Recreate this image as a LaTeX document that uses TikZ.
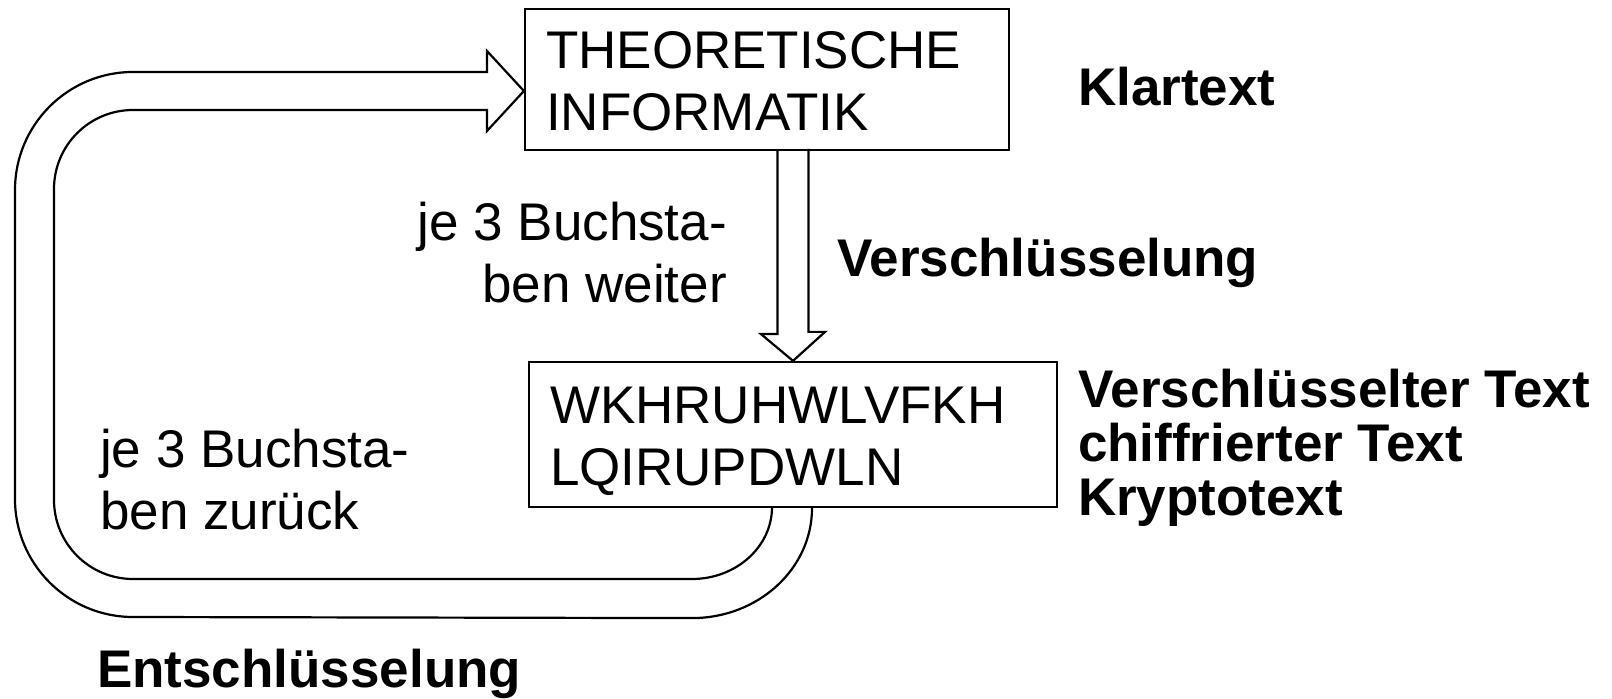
\documentclass[tikz,border=0pt]{standalone}
\usepackage{fontspec}
\setmainfont{Liberation Sans}
\usepackage{tikz}
\usetikzlibrary{calc,positioning}
\tikzset{font={\fontsize{26.5pt}{31pt}\selectfont}}

\begin{document}
\begin{tikzpicture}[x=0.5pt,y=-0.5pt,line width=1.1pt,
textbox/.style={draw,align=left,inner xsep=10.5pt,inner ysep=0pt,text height=20.5pt,text depth=31pt},
label bold/.style={font={\fontsize{26.5pt}{27pt}\selectfont\bfseries},inner sep=0pt},
label plain/.style={inner sep=0pt}
]
\useasboundingbox (0,0) rectangle (1612,699);

\node[textbox,text width=221pt,minimum height=70.5pt] (plain) at (767,79.5) {THEORETISCHE\\INFORMATIK};
\node[textbox,text width=243pt,minimum height=72.5pt] (cipher) at (793,434.5) {WKHRUHWLVFKH\\LQIRUPDWLN};

\node[label bold,anchor=base west] (lblplain) at (1077,106) {Klartext};
\node[label bold,anchor=base west] (lblenc) at (836,277) {Verschlüsselung};
\node[label bold,anchor=base west,align=left] (lblcipher) at (1077,516) {Verschlüsselter Text\\chiffrierter Text\\Kryptotext};
\node[label bold,anchor=base west] (lbldec) at (96,688) {Entschlüsselung};

\node[label plain,anchor=base east,align=right] (lblfwd) at (728,303) {je 3 Buchsta-\\ben weiter};
\node[label plain,anchor=base west,align=left] (lblback) at (99,530) {je 3 Buchsta-\\ben zurück};

%encryption arrow
\draw ($(plain.south -| cipher.north)+(-15.5,0)$) -- ++(0,183) -- ++(-16.5,0) -- (cipher.north) -- ++(32,-29) -- ++(-16.5,0) -- ++(0,-183);

%decryption loop
\draw ($(cipher.south)+(19,0)$) arc[start angle=0,end angle=-90,x radius=60pt,y radius=55pt]
  -- (133,617) arc[start angle=270,end angle=180,radius=59pt]
  -- (15,190) arc[start angle=180,end angle=90,radius=59pt]
  -- (487,72) -- (487,51) -- ($(plain.west)+(0,11.5)$) -- (487,131) -- (487,110)
  -- (133,110) arc[start angle=90,end angle=180,radius=39.5pt]
  -- (54,500) arc[start angle=180,end angle=270,radius=39.5pt]
  -- (692,579) arc[start angle=-90,end angle=0,x radius=40pt,y radius=36pt];

\end{tikzpicture}
\end{document}
